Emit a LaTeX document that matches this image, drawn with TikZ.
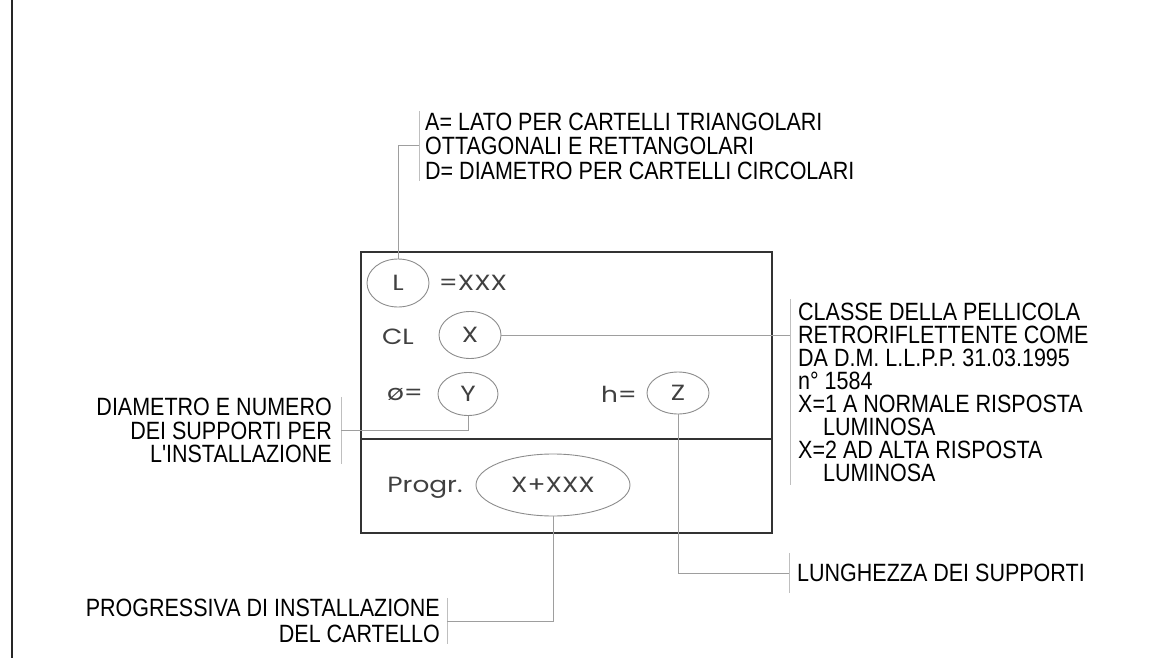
\documentclass[tikz,border=0pt]{standalone}
\usepackage{fontspec}
\newfontfamily\cadfont[FakeStretch=0.86]{Liberation Sans}
\newfontfamily\signfont[FakeStretch=1.2]{Poppins}
\usetikzlibrary{shapes.geometric}
\begin{document}
\begin{tikzpicture}[x=1pt,y=-1pt,
  border/.style={line width=1.6pt, draw=black!85},
  frame/.style={line width=1.3pt, draw=black!80},
  conn/.style={line width=1pt, draw=black!38},
  brk/.style={line width=1pt, draw=black!25},
  oval/.style={ellipse, draw=black!45, line width=0.9pt, inner sep=0pt},
  note/.style={font=\cadfont\fontsize{25}{23.5}\selectfont, inner ysep=1pt, text=black},
  sign/.style={font=\signfont\fontsize{22}{24}\selectfont, text=black!75, inner sep=0pt}]
\useasboundingbox (0,0) rectangle (1151,658);

% left border
\draw[border] (12,0) -- (12,658);

% sign frame
\draw[frame] (361,252) rectangle (772,533);
\draw[frame] (361,439) -- (772,439);

% sign contents
\node[oval, sign, minimum width=62pt, minimum height=48pt] (L) at (398,283) {L};
\node[sign] (eq) at (473,283) {=XXX};
\node[sign] (cl) at (398,337) {CL};
\node[oval, sign, minimum width=62pt, minimum height=47pt] (X) at (470,335) {X};
\node[sign] (phi) at (405,394) {ø=};
\node[oval, sign, minimum width=60pt, minimum height=43pt] (Y) at (468,394) {Y};
\node[sign] (h) at (619,394) {h=};
\node[oval, sign, minimum width=62pt, minimum height=42pt] (Z) at (678,393) {Z};
\node[sign, anchor=base] (pg) at (425,492) {Progr.};
\node[oval, sign, minimum width=154pt, minimum height=62pt] (P) at (553,485) {X+XXX};

% notes
\node[note, anchor=west, align=left, inner xsep=6pt,
      font=\cadfont\fontsize{25}{24.5}\selectfont] (tA) at (419,146)
  {A= LATO PER CARTELLI TRIANGOLARI\\OTTAGONALI E RETTANGOLARI\\D= DIAMETRO PER CARTELLI CIRCOLARI};
\draw[brk] (tA.north west) -- (tA.south west);
\draw[conn] (L.north) |- (tA.west);

\node[note, anchor=west, align=left, inner xsep=8pt, inner ysep=3pt,
      font=\cadfont\fontsize{25}{23}\selectfont] (tC) at (790,392)
  {CLASSE DELLA PELLICOLA\\RETRORIFLETTENTE COME\\DA D.M. L.L.P.P. 31.03.1995\\n° 1584\\X=1 A NORMALE RISPOSTA\\\hspace*{25pt}LUMINOSA\\X=2 AD ALTA RISPOSTA\\\hspace*{25pt}LUMINOSA};
\draw[brk] (tC.north west) -- (tC.south west);
\draw[conn] (X.east) -- (X.east -| tC.west);

\node[note, anchor=east, align=right, inner xsep=9pt] (tD) at (341,430.5)
  {DIAMETRO E NUMERO\\DEI SUPPORTI PER\\L'INSTALLAZIONE};
\draw[brk] (tD.north east) -- (tD.south east);
\draw[conn] (Y.south) |- (tD.east);

\node[note, anchor=west, inner xsep=8pt, inner ysep=11pt] (tL) at (789,573)
  {LUNGHEZZA DEI SUPPORTI};
\draw[brk] (tL.north west) -- (tL.south west);
\draw[conn] (Z.south) |- (tL.west);

\node[note, anchor=east, align=right, inner xsep=7pt,
      font=\cadfont\fontsize{25}{26}\selectfont] (tP) at (447,621)
  {PROGRESSIVA DI INSTALLAZIONE\\DEL CARTELLO};
\draw[brk] (tP.north east) -- (tP.south east);
\draw[conn] (P.south) |- (tP.east);
\end{tikzpicture}
\end{document}
